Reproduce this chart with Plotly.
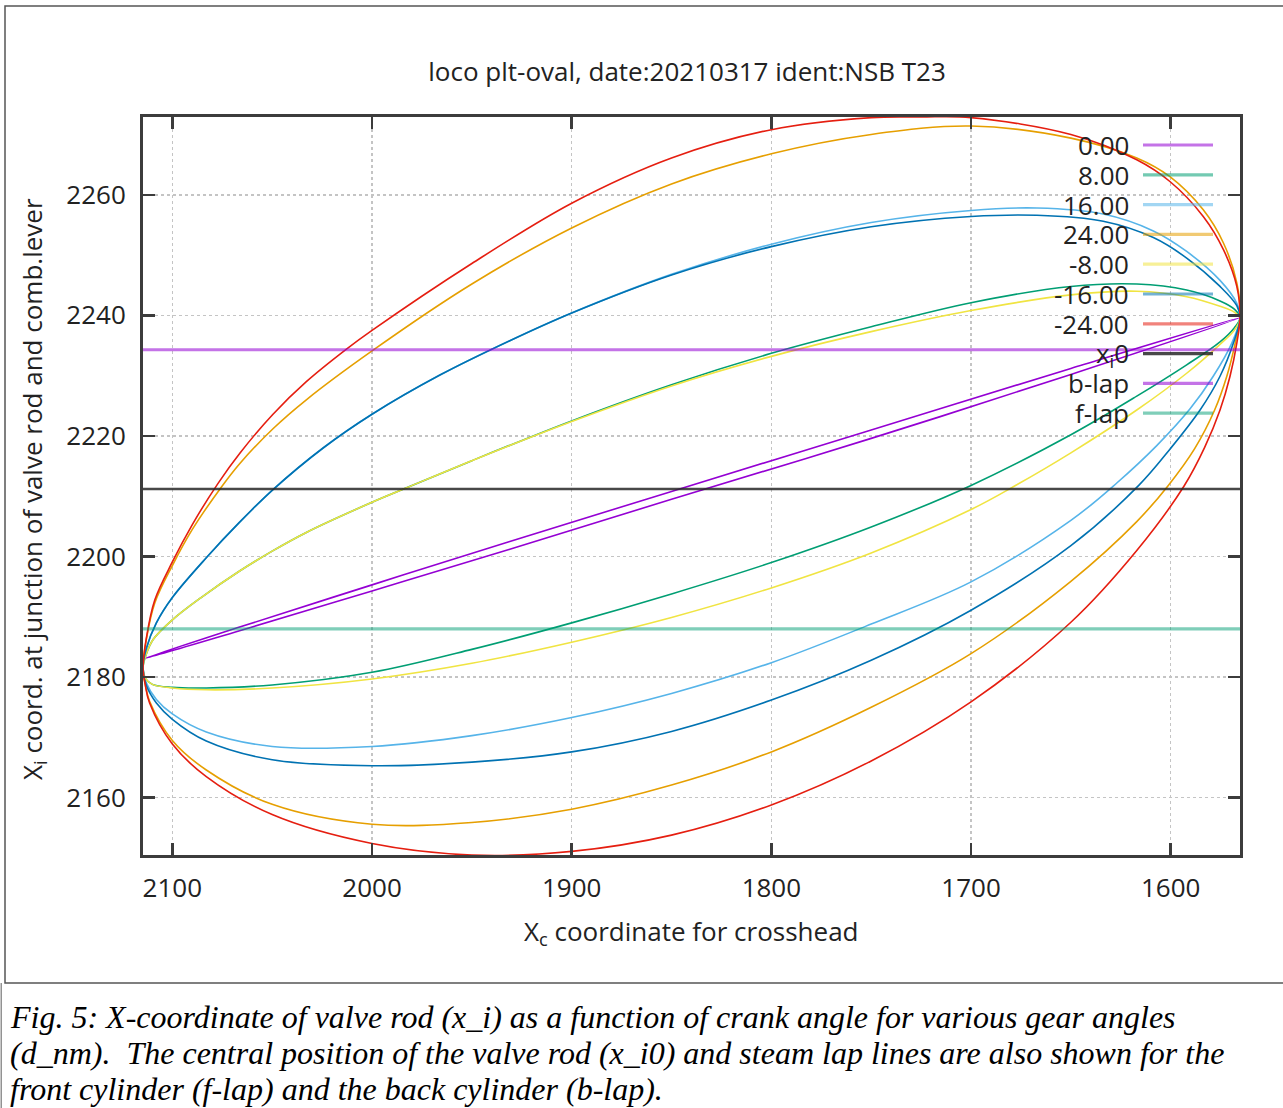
import plotly.graph_objects as go

FONT = "Open Sans"

# ---------------- data ----------------
gear_labels = ["0.00", "8.00", "16.00", "24.00", "-8.00", "-16.00", "-24.00"]
gear_colors = ["#9400D3", "#009E73", "#56B4E9", "#E69F00", "#F0E442", "#0072B2", "#E51E10"]

# crosshead coordinate X_c (upper branch left->right, lower branch right->left)
# valve rod coordinate X_i
# ---- 0.00
xc_up_0 = [2114.7, 2066.3, 2000, 1931, 1850, 1750, 1650, 1565.3]
xi_up_0 = [2183.0, 2188.3, 2195.3, 2202.5, 2210.8, 2221.0, 2231.2, 2239.6]
xc_lo_0 = [1565.3, 1650, 1750, 1850, 1931, 2000, 2066.3, 2114.7]
xi_lo_0 = [2239.6, 2230.2, 2219.6, 2209.5, 2201.2, 2194.3, 2187.7, 2183.0]

# ---- 8.00
xc_up_p8 = [2114.7, 2113.3, 2109.7, 2100, 2085.6, 2066.3, 2050, 2032.9, 2000, 1982.7, 1950, 1900, 1850,
            1800, 1750, 1700, 1650, 1617, 1592, 1575.3, 1568, 1565.3]
xi_up_p8 = [2181.5, 2183.6, 2186.2, 2189.5, 2193.2, 2197.6, 2200.9, 2204.0, 2209.0, 2211.4, 2215.9, 2222.5, 2228.5,
            2233.7, 2238.1, 2242.1, 2244.8, 2245.2, 2244.2, 2242.4, 2241.0, 2239.6]
xc_lo_p8 = [1565.3, 1568, 1575.3, 1592, 1617, 1650, 1700, 1750, 1800, 1850, 1900, 1950,
            2000, 2050, 2083, 2100, 2110, 2113.5, 2114.7]
xi_lo_p8 = [2239.6, 2238.0, 2235.6, 2231.8, 2226.6, 2220.2, 2211.8, 2204.9, 2199.0, 2193.8, 2189.0, 2184.6,
            2180.8, 2178.7, 2178.2, 2178.3, 2178.8, 2179.8, 2181.5]

# ---- 16.00
xc_up_p16 = [2114.7, 2113.0, 2108, 2100, 2083, 2066.3, 2049.6, 2024.5, 2000, 1966, 1931, 1900, 1850, 1800,
             1750, 1700, 1667, 1633.8, 1608.7, 1592, 1575.3, 1566.9, 1565.3]
xi_up_p16 = [2181.5, 2184.8, 2189.0, 2193.2, 2199.8, 2205.7, 2211.1, 2218.0, 2223.6, 2230.1, 2235.8, 2240.4, 2246.8,
             2251.8, 2255.4, 2257.4, 2257.8, 2256.8, 2254.0, 2250.6, 2245.8, 2242.0, 2239.6]
xc_lo_p16 = [1565.3, 1569.4, 1578.7, 1590.3, 1607, 1627, 1650, 1700, 1750, 1800, 1850, 1900, 1950,
             2000, 2050, 2083, 2100, 2108, 2113, 2114.7]
xi_lo_p16 = [2239.6, 2235.4, 2229.9, 2224.5, 2218.4, 2212.2, 2206.0, 2195.8, 2188.8, 2182.4, 2177.3, 2173.3, 2170.3,
             2168.5, 2168.5, 2170.9, 2173.9, 2176.3, 2179.0, 2181.5]

# ---- 24.00
xc_up_p24 = [2114.7, 2113.0, 2108.8, 2100, 2090, 2075.5, 2066.3, 2049.6, 2032.9, 2000, 1950, 1900, 1850,
             1800, 1750, 1700, 1650, 1617, 1600.4, 1583.7, 1573.6, 1566.9, 1565.3]
xi_up_p24 = [2181.5, 2186.3, 2192.3, 2198.5, 2204.5, 2211.5, 2215.4, 2221.2, 2226.0, 2234.1, 2245.2, 2254.5, 2261.8,
             2266.8, 2270.0, 2271.4, 2269.4, 2266.1, 2263.0, 2257.5, 2252.0, 2245.4, 2239.6]
xc_lo_p24 = [1565.3, 1567.7, 1571.9, 1578.0, 1588, 1601.2, 1617, 1650, 1700, 1750, 1800, 1850,
             1900, 1950, 2000, 2050, 2083, 2100, 2111.4, 2113.5, 2114.7]
xi_lo_p24 = [2239.6, 2235.4, 2229.9, 2224.3, 2217.9, 2211.8, 2205.8, 2195.9, 2183.9, 2175.0, 2167.6, 2162.1,
             2158.1, 2155.9, 2155.6, 2158.9, 2164.6, 2169.5, 2176.0, 2178.7, 2181.5]

# ---- -8.00
xc_up_m8 = [2114.7, 2113.3, 2109.7, 2100, 2085.6, 2066.3, 2050, 2032.9, 2000, 1982.7, 1950, 1900, 1850,
            1800, 1750, 1700, 1650, 1617, 1592, 1575.3, 1568, 1565.3]
xi_up_m8 = [2181.5, 2183.6, 2186.2, 2189.5, 2193.2, 2197.6, 2200.9, 2204.0, 2209.0, 2211.4, 2215.9, 2222.4, 2228.3,
            2233.2, 2237.3, 2240.8, 2243.4, 2244.0, 2243.1, 2241.5, 2240.5, 2239.6]
xc_lo_m8 = [1565.3, 1568, 1575.3, 1592, 1617, 1650, 1677.1, 1700, 1750, 1800, 1850, 1900, 1950,
            2000, 2050, 2083, 2100, 2110, 2113.5, 2114.7]
xi_lo_m8 = [2239.6, 2237.6, 2235.2, 2230.4, 2224.3, 2217.2, 2211.9, 2207.8, 2200.6, 2194.8, 2189.9, 2185.8, 2182.3,
            2179.7, 2178.2, 2177.9, 2178.2, 2178.8, 2179.8, 2181.5]

# ---- -16.00
xc_up_m16 = [2114.7, 2113.0, 2108, 2100, 2083, 2066.3, 2049.6, 2024.5, 2000, 1966, 1931, 1900, 1850, 1800,
             1750, 1700, 1667, 1633.8, 1608.7, 1592, 1575.3, 1566.9, 1565.3]
xi_up_m16 = [2181.5, 2184.8, 2189.0, 2193.2, 2199.8, 2205.7, 2211.1, 2218.0, 2223.6, 2230.1, 2235.8, 2240.4, 2246.7,
             2251.4, 2254.7, 2256.4, 2256.6, 2255.6, 2252.9, 2249.5, 2244.8, 2241.6, 2239.6]
xc_lo_m16 = [1565.3, 1568.6, 1575.3, 1585.3, 1600.4, 1616, 1650, 1700, 1750, 1800, 1850, 1900, 1950,
             2000, 2050, 2083, 2100, 2108, 2113, 2114.7]
xi_lo_m16 = [2239.6, 2235.4, 2229.9, 2224.3, 2217.8, 2211.8, 2201.8, 2191.1, 2182.8, 2176.2, 2171.0, 2167.6, 2165.9,
             2165.3, 2166.3, 2169.4, 2173.0, 2175.7, 2178.6, 2181.5]

# ---- -24.00
xc_up_m24 = [2114.7, 2113.0, 2108.8, 2100, 2090, 2077.2, 2066.3, 2049.6, 2032.9, 2012.8, 2000, 1950, 1900,
             1850, 1800, 1750, 1725, 1700, 1650, 1617, 1600.4, 1583.7, 1573.6, 1566.9, 1565.3]
xi_up_m24 = [2181.5, 2186.5, 2192.8, 2199.1, 2205.3, 2212.1, 2217.1, 2223.6, 2229.0, 2234.4, 2237.5, 2248.6, 2258.6,
             2266.1, 2270.8, 2272.8, 2272.9, 2272.8, 2270.0, 2265.8, 2262.2, 2256.4, 2250.9, 2244.8, 2239.6]
xc_lo_m24 = [1565.3, 1566.9, 1570.3, 1575.3, 1583, 1593.3, 1617, 1650, 1700, 1750, 1800, 1850,
             1900, 1950, 2000, 2050, 2083, 2100, 2111.4, 2113.5, 2114.7]
xi_lo_m24 = [2239.6, 2235.4, 2229.9, 2224.3, 2218.1, 2211.7, 2201.0, 2189.1, 2175.9, 2166.1, 2158.8, 2153.8,
             2151.1, 2150.5, 2152.4, 2157.2, 2163.5, 2168.9, 2175.7, 2178.6, 2181.5]

# horizontal reference lines
x_span = [2114.7, 1565.3]
xi0_level = 2211.2
blap_level = 2234.3
flap_level = 2188.0
ref_labels = ["x<sub>i</sub>0", "b-lap", "f-lap"]
ref_colors = ["rgba(40,40,40,0.85)", "rgba(148,0,211,0.55)", "rgba(0,158,115,0.5)"]

# axes
x_range = [2114.7, 1565.3]
y_range = [2150.5, 2272.9]
x_ticks = [2100, 2000, 1900, 1800, 1700, 1600]
y_ticks = [2160, 2180, 2200, 2220, 2240, 2260]

title_text = "loco plt-oval, date:20210317 ident:NSB T23"
xlabel = "X<sub>c</sub> coordinate for crosshead"
ylabel = "X<sub>i</sub> coord. at junction of valve rod and comb.lever"
caption_lines = [
    "Fig. 5: X-coordinate of valve rod (x_i) as a function of crank angle for various gear angles",
    "(d_nm).  The central position of the valve rod (x_i0) and steam lap lines are also shown for the",
    "front cylinder (f-lap) and the back cylinder (b-lap).",
]

curves = [
    (xc_up_0, xi_up_0, xc_lo_0, xi_lo_0),
    (xc_up_p8, xi_up_p8, xc_lo_p8, xi_lo_p8),
    (xc_up_p16, xi_up_p16, xc_lo_p16, xi_lo_p16),
    (xc_up_p24, xi_up_p24, xc_lo_p24, xi_lo_p24),
    (xc_up_m8, xi_up_m8, xc_lo_m8, xi_lo_m8),
    (xc_up_m16, xi_up_m16, xc_lo_m16, xi_lo_m16),
    (xc_up_m24, xi_up_m24, xc_lo_m24, xi_lo_m24),
]

# ---------------- geometry (page pixels; body margin is removed by a post script) ----------------
FIG_W, FIG_H = 1283, 1108
plot_l, plot_r, plot_t, plot_b = 143, 1240, 117, 855
pw, ph = plot_r - plot_l, plot_b - plot_t


def px2paper_x(px):
    return (px - plot_l) / pw


def px2paper_y(py):
    return (plot_b - py) / ph


# ---------------- figure ----------------
fig = go.Figure()

for (xu, yu, xl, yl), lab, col in zip(curves, gear_labels, gear_colors):
    fig.add_trace(go.Scatter(
        x=xu + xl[1:], y=yu + yl[1:], mode="lines", name=lab,
        line=dict(color=col, width=1.6, shape="spline", smoothing=1.0),
        showlegend=False, hoverinfo="skip"))

for lvl, lab, col, w in zip([xi0_level, blap_level, flap_level], ref_labels, ref_colors, [2.5, 3.2, 3.2]):
    fig.add_trace(go.Scatter(
        x=x_span, y=[lvl, lvl], mode="lines", name=lab,
        line=dict(color=col, width=w), showlegend=False, hoverinfo="skip"))

# gnuplot-style key (text right-aligned, sample to the right)
key_labels = gear_labels + ref_labels
key_colors = list(gear_colors) + ref_colors
key_top_px, key_step_px = 145, 29.8

shapes = []
annotations = []
for i, (lab, col) in enumerate(zip(key_labels, key_colors)):
    py = key_top_px + i * key_step_px
    annotations.append(dict(
        x=px2paper_x(1131), y=px2paper_y(py), xref="paper", yref="paper",
        text=lab, showarrow=False, xanchor="right", yanchor="middle",
        font=dict(family=FONT, size=26, color="#222222")))
    scol = col
    if i < len(gear_colors):
        h = col.lstrip("#")
        r, g, b = int(h[0:2], 16), int(h[2:4], 16), int(h[4:6], 16)
        scol = f"rgba({r},{g},{b},0.55)"
    shapes.append(dict(
        type="line", xref="paper", yref="paper",
        x0=px2paper_x(1143), x1=px2paper_x(1213),
        y0=px2paper_y(py), y1=px2paper_y(py),
        line=dict(color=scol, width=3.2)))

# frame around the figure and caption box edge
shapes.append(dict(type="rect", xref="paper", yref="paper",
                   x0=px2paper_x(5), x1=px2paper_x(1295), y0=px2paper_y(983), y1=px2paper_y(6),
                   line=dict(color="#555555", width=1.5), layer="below"))
shapes.append(dict(type="line", xref="paper", yref="paper",
                   x0=px2paper_x(1.2), x1=px2paper_x(1.2), y0=px2paper_y(983), y1=px2paper_y(1110),
                   line=dict(color="#777777", width=1.2)))

annotations.append(dict(x=0.5, y=px2paper_y(932), xref="paper", yref="paper", text=xlabel,
                        showarrow=False, xanchor="center", yanchor="middle",
                        font=dict(family=FONT, size=26, color="#222222")))
annotations.append(dict(x=px2paper_x(33), y=px2paper_y(489), xref="paper", yref="paper", text=ylabel,
                        showarrow=False, xanchor="center", yanchor="middle", textangle=-90,
                        font=dict(family=FONT, size=26, color="#222222")))
for line, cy in zip(caption_lines, [1017, 1053, 1089]):
    annotations.append(dict(x=px2paper_x(8), y=px2paper_y(cy), xref="paper", yref="paper", text=line,
                            showarrow=False, xanchor="left", yanchor="middle", align="left",
                            font=dict(family="Liberation Serif", size=32, color="#000000",
                                      style="italic")))

axis_common = dict(
    ticks="inside", ticklen=12, tickwidth=2.5, tickcolor="#3c3c3c",
    showline=True, linewidth=3, linecolor="#3c3c3c", mirror="ticks",
    showgrid=True, gridcolor="#c4c4c4", griddash="dot", gridwidth=1.5,
    zeroline=False, tickfont=dict(family=FONT, size=26, color="#222222"))

fig.update_xaxes(range=x_range, tickmode="array", tickvals=x_ticks,
                 ticktext=[str(v) for v in x_ticks], ticklabelstandoff=8, **axis_common)
fig.update_yaxes(range=y_range, tickmode="array", tickvals=y_ticks,
                 ticktext=[str(v) for v in y_ticks], ticklabelstandoff=9, **axis_common)

fig.update_layout(
    width=FIG_W, height=FIG_H,
    margin=dict(l=plot_l, r=FIG_W - plot_r, t=plot_t, b=FIG_H - plot_b, pad=0),
    paper_bgcolor="white", plot_bgcolor="white",
    title=dict(text=title_text, x=687 / FIG_W, xref="container",
               y=1 - 72 / FIG_H, yref="container",
               xanchor="center", yanchor="middle",
               font=dict(family=FONT, size=26, color="#222222")),
    shapes=shapes, annotations=annotations, showlegend=False)

fig.write_html("out.html",
               config={"displayModeBar": False, "staticPlot": True},
               post_script="document.body.style.margin='0px';document.body.style.overflow='hidden';")
